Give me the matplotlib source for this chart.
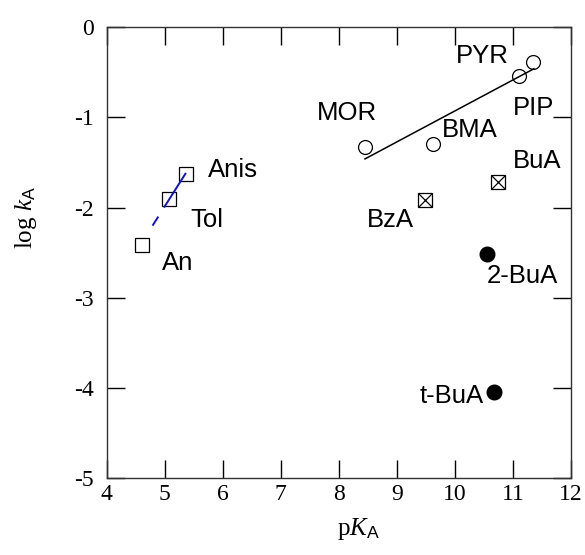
import numpy as np
import matplotlib
matplotlib.use('Agg')
import matplotlib.pyplot as plt

plt.rcParams['axes.unicode_minus'] = False
plt.rcParams['lines.scale_dashes'] = False
plt.rcParams['mathtext.fontset'] = 'custom'
plt.rcParams['mathtext.rm'] = 'Liberation Serif'
plt.rcParams['mathtext.it'] = 'Liberation Serif:italic'
plt.rcParams['mathtext.sf'] = 'Liberation Sans'

# anilines (open squares)
an_names = ['An', 'Tol', 'Anis']
an_pka = [4.60, 5.07, 5.36]
an_logk = [-2.41, -1.90, -1.63]

# cyclic / unhindered amines (open circles)
cyc_names = ['MOR', 'BMA', 'PIP', 'PYR']
cyc_pka = [8.45, 9.62, 11.11, 11.34]
cyc_logk = [-1.33, -1.29, -0.54, -0.385]

# primary amines (crossed squares)
prim_names = ['BzA', 'BuA']
prim_pka = [9.49, 10.75]
prim_logk = [-1.92, -1.72]

# hindered amines (filled circles)
hind_names = ['2-BuA', 't-BuA']
hind_pka = [10.56, 10.68]
hind_logk = [-2.51, -4.05]

# fitted lines
fit_an_x = [4.79, 5.37]
fit_an_y = [-2.20, -1.61]
fit_cyc_x = [8.45, 11.36]
fit_cyc_y = [-1.46, -0.46]

# label positions (data coords, baseline)
label_pos = {
    'An': (4.95, -2.69, 'left'), 'Tol': (5.44, -2.216, 'left'), 'Anis': (5.75, -1.66, 'left'),
    'MOR': (8.14, -1.03, 'center'), 'BMA': (9.78, -1.218, 'left'),
    'PIP': (11.0, -0.974, 'left'), 'PYR': (10.02, -0.396, 'left'),
    'BzA': (9.30, -2.216, 'right'), 'BuA': (11.0, -1.56, 'left'),
    '2-BuA': (10.54, -2.84, 'left'), 't-BuA': (10.49, -4.17, 'right'),
}

fig = plt.figure(figsize=(5.85, 5.55), dpi=100)
ax = fig.add_axes([0.1824, 0.1387, 0.7937, 0.8121])

ms = 10
ax.plot(an_pka, an_logk, 's', ms=ms, mfc='none', mec='black', mew=0.9, ls='none')
ax.plot(cyc_pka, cyc_logk, 'o', ms=ms, mfc='none', mec='black', mew=0.9, ls='none')
ax.plot(prim_pka, prim_logk, 's', ms=ms, mfc='none', mec='black', mew=0.9, ls='none')
ax.plot(prim_pka, prim_logk, 'x', ms=ms, mec='black', mew=0.9, ls='none')
ax.plot(hind_pka, hind_logk, 'o', ms=10.5, mfc='black', mec='black', ls='none')

ax.plot(fit_an_x, fit_an_y, color='#1010d0', lw=1.4, linestyle=(21.8, (29.5, 7.7)))
ax.plot(fit_cyc_x, fit_cyc_y, color='black', lw=1.1)

for name, (tx, ty, ha) in label_pos.items():
    ax.text(tx, ty, name, ha=ha, va='baseline', fontsize=18.5, family='Liberation Sans')

ax.set_xlim(4, 12)
ax.set_ylim(-5, 0)
ax.set_xticks(np.arange(4, 13, 1))
ax.set_yticks(np.arange(-5, 1, 1))
ax.tick_params(direction='in', length=13, width=1, top=True, right=True,
               labelsize=17)
ax.tick_params(axis='y', pad=9)
ax.tick_params(axis='x', pad=4)
for lab in ax.get_xticklabels() + ax.get_yticklabels():
    lab.set_family('Liberation Serif')
for sp in ax.spines.values():
    sp.set_linewidth(1)
    sp.set_color('#333333')

fig.text(358 / 585, 1 - 535 / 555, r'p$\mathit{K}_{\mathsf{A}}$', ha='center', va='baseline',
         fontsize=18, family='Liberation Serif')
fig.text(26 / 585, 1 - 218 / 555, r'log $\mathit{k}_{\mathsf{A}}$', ha='center', va='center',
         rotation=90, fontsize=18, family='Liberation Serif')

fig.savefig('out.png', dpi=100)
